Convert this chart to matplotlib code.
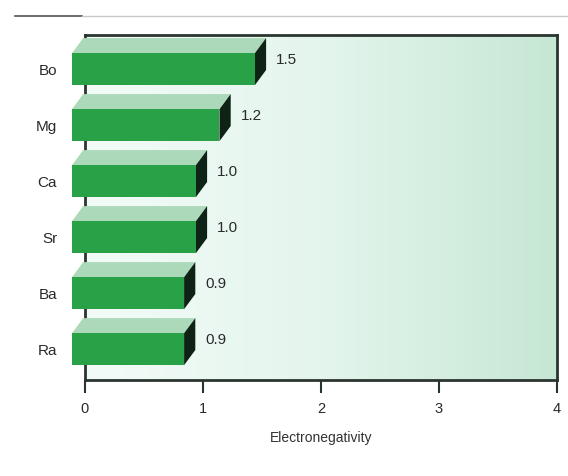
import numpy as np
import matplotlib
matplotlib.use("Agg")
import matplotlib.pyplot as plt
from matplotlib.patches import Polygon
from matplotlib.lines import Line2D

plt.rcParams['font.family'] = ['Liberation Sans', 'DejaVu Sans']

# Group 2 elements, top to bottom
elements = ['Bo', 'Mg', 'Ca', 'Sr', 'Ba', 'Ra']
values = [1.5, 1.2, 1.0, 1.0, 0.9, 0.9]
xticks = [0, 1, 2, 3, 4]

front = '#29a147'
top = '#acd9b9'
side = '#0f2216'
spine = '#2b352f'
text = '#2a2a2a'

fig = plt.figure(figsize=(5.68, 4.76), dpi=100)
ax = fig.add_axes([0.1496, 0.2017, 0.831, 0.7248])

ax.set_xlim(0, 4)
ax.set_ylim(-0.55, 5.61)

# pale green wash behind the bars
grad = np.linspace(0, 1, 256)[None, :]
cmap = matplotlib.colors.LinearSegmentedColormap.from_list(
    'wash', ['#f3fbf8', '#e4f5ed', '#c6e7d4'])
ax.imshow(grad, extent=[0, 4, -0.55, 5.61], aspect='auto', cmap=cmap,
          zorder=0, interpolation='bilinear')

# 3D-looking bars: front face, top face and shaded right side
h = 0.285
dx, dy = 0.095, 0.27
x0 = -0.11
n = len(elements)
for i, (name, v) in enumerate(zip(elements, values)):
    c = n - 1 - i
    x1 = v - 0.06
    faces = [
        ([(x0, c + h), (x0 + dx, c + h + dy), (x1 + dx, c + h + dy), (x1, c + h)], top),
        ([(x1, c - h), (x1, c + h), (x1 + dx, c + h + dy), (x1 + dx, c - h + dy)], side),
        ([(x0, c - h), (x1, c - h), (x1, c + h), (x0, c + h)], front),
    ]
    for pts, col in faces:
        ax.add_patch(Polygon(pts, closed=True, facecolor=col, edgecolor='none',
                             zorder=3, clip_on=False))
    ax.annotate(f'{v:.1f}', xy=(x1 + dx, c + 0.16), xytext=(7, 0),
                textcoords='offset points', va='center', ha='left',
                fontsize=11, color=text, zorder=4)

ax.set_yticks(range(n))
ax.set_yticklabels(elements[::-1], fontsize=11, color=text)
ax.tick_params(axis='y', length=0, pad=20)

ax.set_xticks(xticks)
ax.set_xticklabels([str(t) for t in xticks], fontsize=10.5, color=text)
ax.tick_params(axis='x', direction='out', length=9, width=1.5, color=spine, pad=7)
ax.set_xlabel('Electronegativity', fontsize=10, color='#333333', labelpad=11)

for s in ax.spines.values():
    s.set_color(spine)
    s.set_linewidth(2)
    s.set_zorder(2)

# rule across the top of the figure
fig.add_artist(Line2D([0.026, 0.145], [0.966, 0.966], color='#555555', lw=1.2))
fig.add_artist(Line2D([0.145, 1.0], [0.966, 0.966], color='#c8c8c8', lw=1.0))

fig.savefig('out.png', dpi=100)
